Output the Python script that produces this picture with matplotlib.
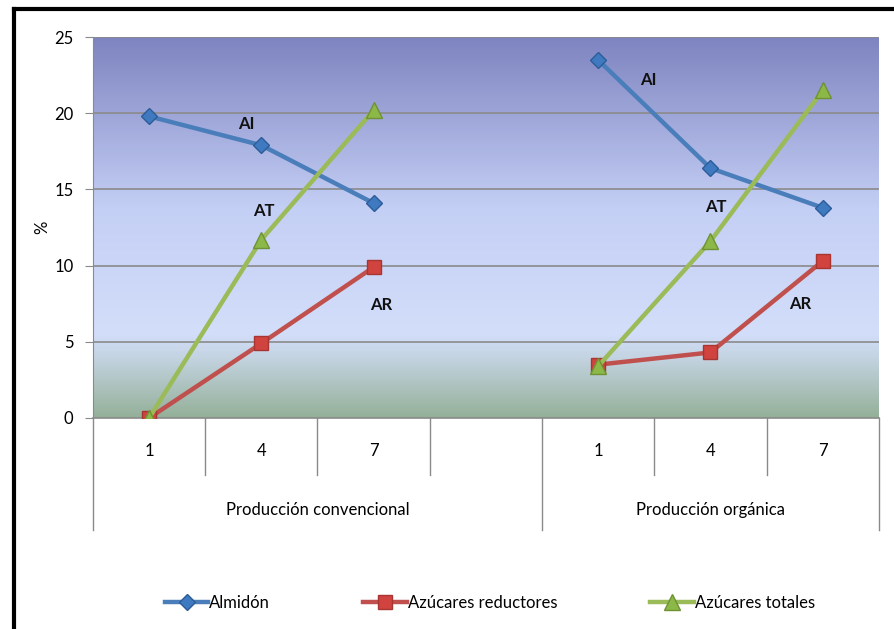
import numpy as np
import matplotlib.pyplot as plt
from matplotlib.lines import Line2D

plt.rcParams['font.family'] = ['Lato', 'DejaVu Sans']

# datos (indice 3 = hueco entre grupos)
dias = ["1", "4", "7", "", "1", "4", "7"]
grupos = ["Producción convencional", "Producción orgánica"]
almidon = [19.8, 17.9, 14.1, np.nan, 23.5, 16.4, 13.8]
az_reductores = [0.0, 4.9, 9.9, np.nan, 3.5, 4.3, 10.3]
az_totales = [0.0, 11.7, 20.2, np.nan, 3.4, 11.6, 21.5]
etiquetas = [("AI", 0.87, 19.3), ("AT", 1.02, 13.6), ("AR", 2.07, 7.4),
             ("AI", 4.45, 22.2), ("AT", 5.05, 13.85), ("AR", 5.8, 7.5)]

fig = plt.figure(figsize=(8.94, 6.29), dpi=100)
ax = fig.add_axes([0.104, 0.3355, 0.879, 0.6055])

x = np.arange(len(dias))

# fondo degradado del area de trazado
stops = [0.0, 0.45, 0.78, 0.84, 1.0]
cols = np.array([[126, 132, 192], [196, 207, 245], [211, 222, 250],
                 [196, 212, 226], [148, 176, 152]]) / 255
f = np.linspace(0, 1, 300)
grad = np.stack([np.interp(f, stops, cols[:, k]) for k in range(3)], axis=1)
ax.imshow(grad[:, None, :], extent=[-0.5, 6.5, 0, 25], aspect='auto', zorder=0)

for yy in [5, 10, 15, 20, 25]:
    ax.axhline(yy, color='#8a8a8a', lw=1.2, zorder=1)

ax.plot(x, almidon, color='#4a7ebb', lw=3.2, marker='D', ms=8,
        mfc='#3f79c0', mec='#2c5d99', label='Almidón', zorder=3)
ax.plot(x, az_reductores, color='#c0504d', lw=3.2, marker='s', ms=10,
        mfc='#d0433f', mec='#a83532', label='Azúcares reductores', zorder=3)
ax.plot(x, az_totales, color='#9bbb59', lw=3.2, marker='^', ms=11,
        mfc='#8cb847', mec='#6f9235', label='Azúcares totales', zorder=4)

for txt, xx, yy in etiquetas:
    ax.text(xx, yy, txt, fontsize=12, fontweight='bold', ha='center',
            va='center', color='#111111', zorder=5)

ax.set_xlim(-0.5, 6.5)
ax.set_ylim(0, 25)
ax.set_yticks([0, 5, 10, 15, 20, 25])
ax.tick_params(axis='y', labelsize=12, length=6, color='#8a8a8a', pad=8)
ax.set_xticks([])
ax.set_ylabel('%', fontsize=12, labelpad=3)

for s in ['top', 'right']:
    ax.spines[s].set_visible(False)
ax.spines['left'].set_color('#8a8a8a')
ax.spines['bottom'].set_color('#8a8a8a')
ax.spines['bottom'].set_linewidth(1.2)

# tabla de categorias bajo el eje
tr = ax.get_xaxis_transform()
for b in [0.5, 1.5, 2.5, 4.5, 5.5]:
    ax.plot([b, b], [0, -0.15], color='#8a8a8a', lw=1, transform=tr, clip_on=False)
for b in [-0.5, 3.5, 6.5]:
    ax.plot([b, b], [0, -0.294], color='#8a8a8a', lw=1, transform=tr, clip_on=False)
for i, d in enumerate(dias):
    ax.text(i, -0.087, d, transform=tr, ha='center', va='center', fontsize=12)
ax.text(1.5, -0.241, grupos[0], transform=tr, ha='center', va='center', fontsize=12)
ax.text(5.0, -0.241, grupos[1], transform=tr, ha='center', va='center', fontsize=12)

fig.legend(loc='center', bbox_to_anchor=(0.548, 0.041), ncol=3, frameon=False,
           fontsize=12, handlelength=2.6, handletextpad=0.05, columnspacing=5.6)

# marco negro
fig.add_artist(Line2D([0.0155, 0.0155], [0, 0.986], color='black', lw=3, transform=fig.transFigure))
fig.add_artist(Line2D([0.0155, 1], [0.986, 0.986], color='black', lw=3, transform=fig.transFigure))

fig.savefig('out.png', dpi=100)
